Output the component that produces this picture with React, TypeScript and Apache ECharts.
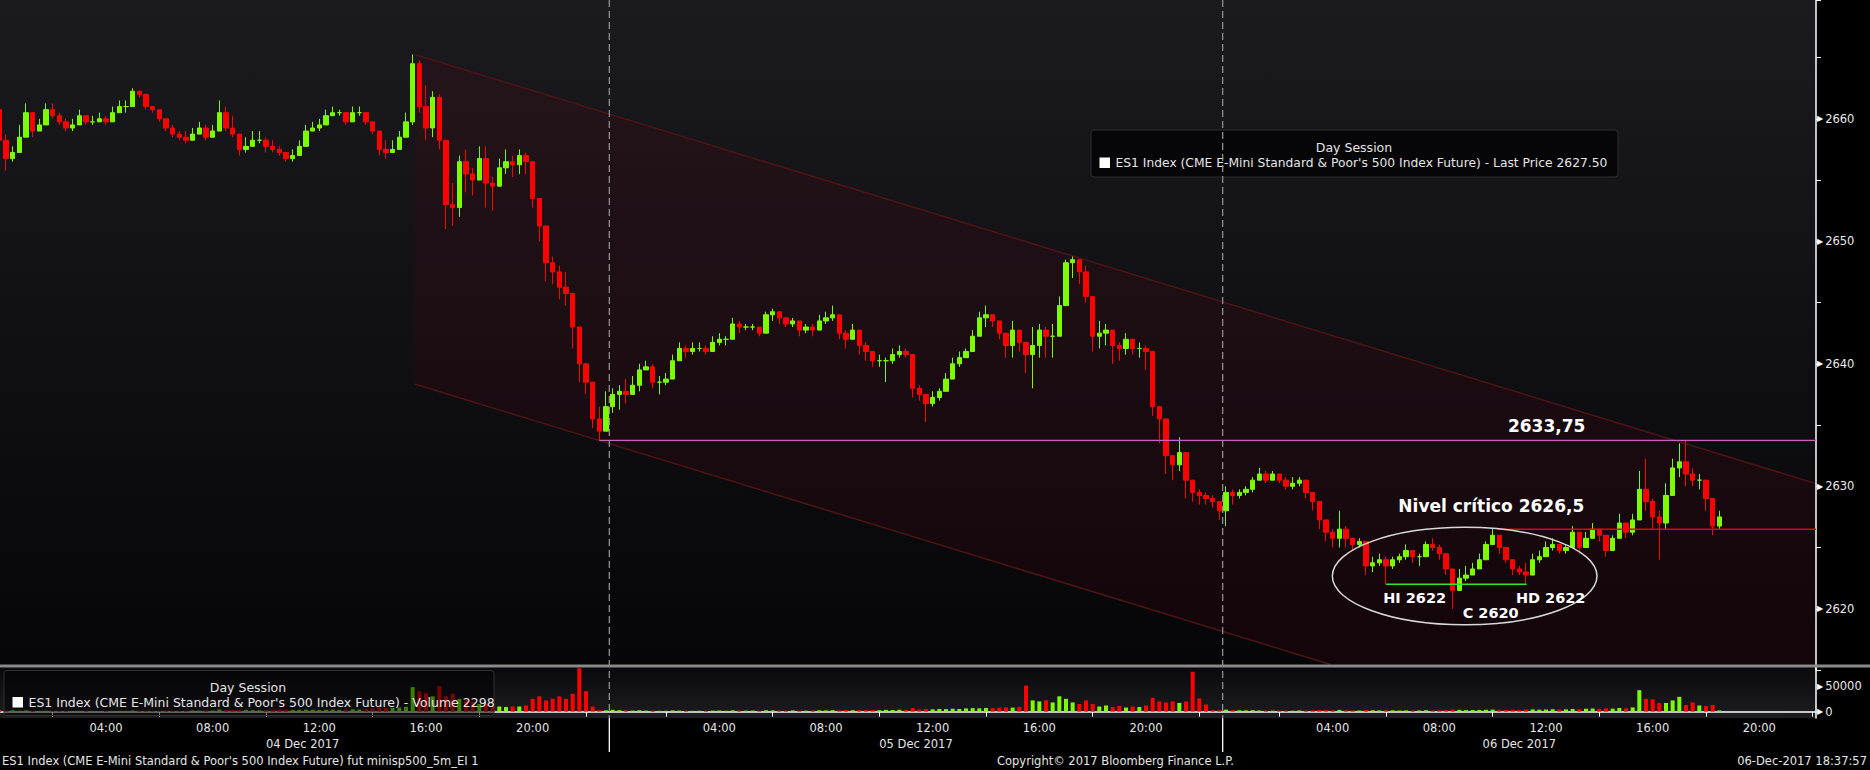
import React, { useEffect, useRef } from "react";
import * as echarts from "echarts";

// ---------- DATA (15-minute bars) ----------
const DAYS = ["04 Dec 2017", "05 Dec 2017", "06 Dec 2017"];
const SLOTS_PER_DAY = [92, 92, 89];
const FIRST_OPEN = 2660.75;

const day1Close = [
  2658.25, 2656.75, 2657.25, 2658.5, 2660.5, 2659.0, 2659.5, 2660.75, 2660.25, 2659.75,
  2659.25, 2659.5, 2660.25, 2659.75, 2659.75, 2660.0, 2659.75, 2660.5, 2661.0, 2661.0,
  2662.25, 2662.0, 2661.0, 2660.75, 2660.0, 2659.25, 2658.75, 2658.5, 2658.25, 2658.75,
  2659.25, 2658.5, 2659.0, 2660.5, 2659.25, 2658.75, 2657.5, 2657.75, 2658.25, 2658.25,
  2657.75, 2657.5, 2657.25, 2656.75, 2657.0, 2657.75, 2659.0, 2659.25, 2659.5, 2660.25,
  2660.5, 2660.5, 2659.75, 2660.5, 2660.5, 2659.75, 2659.0, 2657.5, 2657.25, 2657.5,
  2658.5, 2659.75, 2664.5, 2661.0, 2659.25, 2661.75, 2658.25, 2653.0, 2652.75, 2656.5,
  2655.5, 2655.0, 2656.75, 2654.75, 2654.5, 2656.0, 2656.5, 2656.25, 2657.0, 2656.5,
  2653.5, 2651.25, 2648.25, 2647.5, 2646.25, 2645.75, 2643.0, 2640.0, 2638.5, 2635.5,
  2634.5, 2636.5,
];
const day1High = [
  2660.75, 2658.75, 2657.75, 2659.5, 2661.25, 2660.5, 2660.0, 2661.25, 2661.25, 2660.5,
  2660.0, 2660.0, 2660.75, 2660.0, 2660.25, 2660.5, 2660.25, 2661.0, 2661.5, 2661.5,
  2662.5, 2662.25, 2662.0, 2661.0, 2660.75, 2659.75, 2659.5, 2659.0, 2659.0, 2659.25,
  2659.75, 2659.5, 2659.5, 2661.5, 2661.0, 2660.25, 2658.75, 2658.5, 2659.0, 2659.0,
  2658.5, 2658.25, 2657.75, 2657.25, 2657.5, 2658.25, 2659.5, 2659.75, 2660.0, 2660.75,
  2661.0, 2660.75, 2660.5, 2661.0, 2661.0, 2660.5, 2659.75, 2658.75, 2658.25, 2658.25,
  2659.0, 2660.5, 2665.25, 2664.75, 2662.75, 2662.25, 2662.0, 2658.25, 2654.75, 2657.0,
  2657.5, 2656.0, 2657.75, 2657.75, 2655.25, 2656.75, 2657.5, 2657.0, 2657.5, 2657.25,
  2655.5, 2653.5, 2650.75, 2648.75, 2648.0, 2647.5, 2645.0, 2642.5, 2639.5, 2638.25,
  2636.5, 2637.75,
];
const day1Low = [
  2658.25, 2655.75, 2656.5, 2657.5, 2658.75, 2658.5, 2659.0, 2659.5, 2660.0, 2659.5,
  2659.0, 2659.0, 2659.75, 2659.5, 2659.5, 2659.75, 2659.5, 2660.0, 2660.5, 2660.5,
  2661.5, 2661.75, 2660.75, 2660.5, 2659.75, 2659.0, 2658.5, 2658.25, 2658.0, 2658.25,
  2658.75, 2658.25, 2658.5, 2659.5, 2659.0, 2658.5, 2657.0, 2657.25, 2657.75, 2658.0,
  2657.25, 2657.25, 2657.0, 2656.5, 2656.5, 2657.25, 2658.0, 2659.0, 2659.0, 2659.75,
  2660.25, 2660.25, 2659.5, 2660.0, 2660.25, 2659.5, 2658.75, 2657.0, 2656.75, 2657.25,
  2657.75, 2659.0, 2659.5, 2660.5, 2658.25, 2658.5, 2657.5, 2651.0, 2651.25, 2652.0,
  2654.0, 2653.75, 2655.25, 2652.75, 2652.5, 2655.0, 2655.5, 2655.25, 2655.5, 2655.5,
  2652.75, 2650.0, 2646.75, 2646.5, 2645.25, 2644.75, 2641.25, 2638.5, 2637.5, 2634.75,
  2633.75, 2634.5,
];

const day2Close = [
  2637.5, 2637.75, 2637.5, 2638.25, 2639.5, 2639.75, 2638.5, 2638.5, 2638.75, 2640.25,
  2641.25, 2641.0, 2641.25, 2641.25, 2641.0, 2641.75, 2642.0, 2642.0, 2643.25, 2643.0,
  2643.0, 2643.0, 2642.5, 2644.0, 2644.25, 2643.75, 2643.25, 2643.5, 2642.75, 2643.0,
  2642.75, 2643.5, 2643.75, 2644.0, 2642.5, 2642.0, 2642.75, 2641.5, 2641.0, 2640.25,
  2640.25, 2640.25, 2640.75, 2641.0, 2640.75, 2638.0, 2637.5, 2636.75, 2637.25, 2637.75,
  2638.75, 2640.0, 2640.5, 2641.0, 2642.25, 2643.75, 2644.0, 2643.5, 2642.5, 2641.5,
  2642.75, 2641.75, 2640.75, 2641.5, 2642.75, 2642.25, 2642.25, 2644.75, 2648.25, 2648.5,
  2647.5, 2645.5, 2642.25, 2642.5, 2642.75, 2641.5, 2641.25, 2642.0, 2641.25, 2641.25,
  2641.0, 2636.5, 2635.5, 2632.5, 2631.75, 2632.75, 2630.5, 2629.5, 2629.25, 2629.0,
  2628.75, 2628.0,
];
const day2High = [
  2638.0, 2638.25, 2638.75, 2639.0, 2640.0, 2640.25, 2640.0, 2639.0, 2639.25, 2640.75,
  2641.75, 2641.5, 2641.75, 2641.75, 2641.5, 2642.25, 2642.5, 2642.25, 2643.75, 2643.5,
  2643.25, 2643.25, 2643.0, 2644.25, 2644.5, 2644.25, 2643.75, 2643.75, 2643.25, 2643.25,
  2643.25, 2644.0, 2644.25, 2644.75, 2643.5, 2642.75, 2643.25, 2642.5, 2641.75, 2641.0,
  2640.75, 2640.5, 2641.25, 2641.5, 2641.25, 2640.5, 2638.25, 2637.5, 2637.75, 2638.0,
  2639.25, 2640.5, 2641.0, 2641.25, 2642.75, 2644.25, 2644.75, 2644.0, 2643.25, 2642.5,
  2643.5, 2642.75, 2641.75, 2643.0, 2643.25, 2643.0, 2643.25, 2645.5, 2648.5, 2648.75,
  2648.5, 2648.0, 2645.5, 2643.5, 2643.25, 2642.0, 2641.75, 2642.5, 2641.75, 2641.75,
  2641.5, 2639.5, 2636.5, 2633.75, 2632.5, 2634.0, 2632.5, 2630.5, 2629.75, 2629.5,
  2629.25, 2628.75,
];
const day2Low = [
  2636.0, 2636.25, 2636.75, 2637.75, 2637.75, 2639.5, 2638.0, 2637.5, 2638.25, 2638.75,
  2640.5, 2640.5, 2640.75, 2641.0, 2640.75, 2641.0, 2641.5, 2641.5, 2642.5, 2642.5,
  2642.75, 2642.75, 2642.25, 2642.5, 2643.5, 2643.25, 2643.0, 2643.0, 2642.25, 2642.5,
  2642.25, 2643.0, 2643.25, 2643.5, 2642.0, 2641.25, 2642.0, 2640.75, 2640.25, 2639.75,
  2639.75, 2638.5, 2640.0, 2640.5, 2640.5, 2637.25, 2637.0, 2635.25, 2636.5, 2637.0,
  2637.75, 2639.25, 2639.75, 2640.5, 2641.0, 2642.5, 2643.0, 2643.0, 2642.0, 2640.5,
  2640.5, 2641.0, 2639.25, 2638.0, 2640.5, 2640.5, 2640.5, 2642.5, 2645.25, 2647.0,
  2646.5, 2645.0, 2641.0, 2641.25, 2641.5, 2640.0, 2640.25, 2640.75, 2640.75, 2640.5,
  2639.5, 2635.75, 2633.5, 2631.0, 2630.5, 2631.25, 2629.0, 2628.75, 2628.5, 2628.5,
  2628.25, 2627.25,
];

const day3Close = [
  2629.5, 2629.25, 2629.5, 2629.75, 2630.5, 2631.0, 2630.5, 2631.0, 2630.5, 2630.0,
  2630.25, 2630.5, 2629.5, 2628.75, 2627.25, 2626.25, 2625.75, 2626.5, 2625.75, 2625.25,
  2625.5, 2623.5, 2623.75, 2624.0, 2623.5, 2624.0, 2624.25, 2624.75, 2624.25, 2624.25,
  2625.25, 2625.0, 2624.5, 2623.25, 2621.5, 2622.5, 2622.75, 2623.25, 2624.0, 2625.25,
  2626.0, 2625.0, 2624.0, 2623.25, 2623.0, 2622.75, 2624.0, 2624.25, 2625.0, 2625.25,
  2624.75, 2625.0, 2626.25, 2625.0, 2625.75, 2626.5, 2626.0, 2624.75, 2625.75, 2627.0,
  2626.25, 2627.25, 2629.75, 2628.75, 2627.5, 2627.0, 2629.25, 2631.5, 2632.0, 2631.0,
  2630.5, 2630.5, 2629.0, 2626.75, 2627.5,
];
const day3High = [
  2630.0, 2629.75, 2629.75, 2630.0, 2630.75, 2631.5, 2631.25, 2631.25, 2631.0, 2630.75,
  2630.75, 2630.75, 2630.25, 2629.5, 2628.25, 2627.0, 2626.5, 2628.0, 2626.75, 2625.75,
  2625.75, 2625.0, 2624.25, 2624.5, 2624.25, 2624.25, 2624.5, 2625.25, 2624.75, 2624.5,
  2625.5, 2625.75, 2625.25, 2624.5, 2623.0, 2623.25, 2623.5, 2623.75, 2624.5, 2625.5,
  2626.5, 2625.75, 2624.5, 2623.75, 2623.5, 2623.75, 2624.5, 2624.75, 2625.5, 2625.75,
  2625.25, 2625.25, 2626.75, 2626.0, 2626.25, 2627.0, 2626.5, 2625.25, 2626.0, 2627.75,
  2627.0, 2627.75, 2631.25, 2632.25, 2629.0, 2628.0, 2630.25, 2632.25, 2633.5, 2633.75,
  2631.5, 2631.0, 2630.5, 2628.25, 2628.0,
];
const day3Low = [
  2626.75, 2628.5, 2629.0, 2629.25, 2629.5, 2630.5, 2630.25, 2630.75, 2630.25, 2629.75,
  2629.75, 2630.0, 2629.0, 2628.0, 2626.5, 2625.5, 2625.0, 2625.0, 2625.0, 2624.75,
  2625.0, 2622.75, 2623.0, 2623.5, 2622.0, 2623.25, 2623.75, 2624.0, 2623.75, 2623.5,
  2624.5, 2624.75, 2624.0, 2622.75, 2620.0, 2622.0, 2622.25, 2622.75, 2623.5, 2624.25,
  2625.5, 2624.5, 2623.75, 2622.75, 2622.75, 2622.0, 2623.25, 2623.75, 2624.25, 2624.75,
  2624.5, 2624.5, 2625.0, 2624.5, 2625.0, 2625.75, 2625.5, 2624.25, 2625.0, 2626.5,
  2625.75, 2626.0, 2628.5, 2628.0, 2626.5, 2624.0, 2626.5, 2629.5, 2630.75, 2630.0,
  2630.0, 2629.75, 2628.0, 2626.0, 2626.5,
];

const day1Volume = [
  3200, 2100, 2800, 1900, 2500, 1700, 1500, 1800, 1400, 1200,
  1300, 1100, 1500, 1000, 900, 1100, 1300, 1200, 1600, 1400,
  2200, 1800, 1500, 1300, 1700, 2000, 1800, 1600, 1900, 2400,
  2100, 2600, 2300, 4200, 3600, 3100, 3800, 3300, 2900, 2700,
  3000, 2800, 3200, 3500, 3100, 3400, 4000, 3700, 3300, 3600,
  3900, 3400, 3800, 4500, 4100, 4800, 6200, 7500, 6800, 7200,
  8000, 9500, 48000, 40000, 36000, 30000, 50000, 30000, 35000, 25000,
  22000, 20000, 15000, 15000, 12000, 10000, 9000, 10000, 10000, 12000,
  25000, 30000, 22000, 25000, 30000, 25000, 35000, 85000, 40000, 10000,
  3000, 2500,
];
const day2Volume = [
  3500, 2800, 2400, 2000, 2600, 1900, 1700, 1500, 1600, 2300,
  2000, 1800, 1500, 1700, 1400, 1900, 2100, 1600, 2500, 2200,
  1800, 2000, 1700, 2600, 2400, 2100, 1900, 2300, 2000, 1800,
  2200, 2500, 2300, 2800, 2600, 3000, 2700, 3300, 2900, 3100,
  2800, 3400, 3200, 3600, 3300, 7000, 4200, 4800, 4500, 5200,
  4900, 5600, 5100, 6200, 6800, 6400, 7200, 6900, 7600, 8200,
  7800, 9000, 51000, 22000, 20000, 22000, 18000, 30000, 25000, 18000,
  15000, 22000, 15000, 10000, 12000, 9000, 11000, 8000, 10000, 9000,
  12000, 27000, 20000, 18000, 20000, 17000, 20000, 78000, 26000, 14000,
  3000, 2600,
];
const day3Volume = [
  3800, 3000, 2600, 2400, 2900, 2200, 2000, 1800, 2100, 1900,
  1700, 2300, 2000, 2600, 3200, 2900, 2500, 3300, 2700, 2400,
  2200, 3100, 2600, 2300, 2800, 2500, 2100, 2400, 2000, 2200,
  2700, 2300, 2500, 3000, 4200, 3400, 2900, 3100, 3300, 3600,
  4000, 3500, 3200, 3700, 3400, 3900, 4300, 3800, 4100, 4600,
  4200, 4400, 5200, 4800, 5600, 6000, 5400, 6300, 5800, 7000,
  6500, 8200, 42000, 25000, 24000, 17000, 17000, 22000, 29000, 13000,
  18000, 12000, 11000, 13000, 2298,
];

const PRICE_TICKS = [2620, 2630, 2640, 2650, 2660];
const VOLUME_TICKS = [0, 50000];

// Annotation anchors in data units ([slot, price])
const CHANNEL_TOP = [[62, 2665.3], [161, 2648.8]];
const CHANNEL_WIDTH = 26.9;
const CHANNEL_START = 62.3;
const RESISTANCE = { level: 2633.75, from: 90 };
const CRITICAL = { level: 2626.5, from: 224.6 };
const NECKLINE = { level: 2622, from: 208, to: 229.1 };
const PATTERN_ELLIPSE = { s: 219.8, p: 2622.67, rs: 19.85, rp: 3.98 };
const NOTES = [
  { text: "2633,75", s: 232.1, p: 2634.94, size: 17 },
  { text: "Nivel crítico 2626,5", s: 223.8, p: 2628.41, size: 17 },
  { text: "HI 2622", s: 212.3, p: 2620.87, size: 14.5 },
  { text: "HD 2622", s: 232.7, p: 2620.87, size: 14.5 },
  { text: "C 2620", s: 223.7, p: 2619.65, size: 14.5 },
];

const FONT = "'DejaVu Sans', Verdana, sans-serif";
const UP = "#7cfc00";
const DOWN = "#ff0000";

const pad = (n: number) => (n < 10 ? "0" + n : "" + n);

export default function App() {
  const ref = useRef<HTMLDivElement>(null);

  useEffect(() => {
    const el = ref.current;
    if (!el) return;
    const chart = echarts.init(el, null, { renderer: "svg" });

    const cats: string[] = [];
    DAYS.forEach((d, di) => {
      for (let s = 0; s < SLOTS_PER_DAY[di]; s++) {
        cats.push(`${d} ${pad(Math.floor(s / 4))}:${pad((s % 4) * 15)}`);
      }
    });
    const N = cats.length;

    const closes = [...day1Close, ...day2Close, ...day3Close];
    const highs = [...day1High, ...day2High, ...day3High];
    const lows = [...day1Low, ...day2Low, ...day3Low];
    const vols = [...day1Volume, ...day2Volume, ...day3Volume];

    const candles = closes.map((c, i) => {
      const o = i === 0 ? FIRST_OPEN : closes[i - 1];
      return [o, c, Math.min(lows[i], o, c), Math.max(highs[i], o, c)];
    });
    const volData = vols.map((v, i) => ({
      value: v,
      itemStyle: { color: candles[i][1] >= candles[i][0] ? UP : DOWN },
    }));

    const hm = (v: string) => {
      const t = v.slice(-5);
      return [parseInt(t.slice(0, 2), 10), parseInt(t.slice(3), 10)];
    };

    const triRich = {
      t: { fontSize: 8, color: "#ffffff", fontFamily: FONT, padding: [0, 2, 0, 0] },
      v: { fontSize: 11.5, color: "#e8e8e8", fontFamily: FONT },
    };

    chart.setOption({
      animation: false,
      backgroundColor: "#000000",
      grid: [
        { left: -4, top: 0, width: 1820, height: 670, outerBoundsMode: "none" },
        { left: -4, top: 667, width: 1820, height: 51, outerBoundsMode: "none" },
      ],
      xAxis: [
        { type: "category", gridIndex: 0, data: cats, boundaryGap: true, show: false },
        {
          type: "category",
          gridIndex: 1,
          data: cats,
          boundaryGap: true,
          axisLine: { show: true, lineStyle: { color: "#ffffff", width: 1.5 } },
          axisTick: {
            show: true,
            alignWithLabel: true,
            length: 5,
            interval: (_i: number, v: string) => {
              const [h, m] = hm(v);
              return m === 0 && h % 4 === 2;
            },
            lineStyle: { color: "#ffffff" },
          },
          axisLabel: {
            interval: (_i: number, v: string) => {
              const [h, m] = hm(v);
              return m === 0 && h % 4 === 0 && h > 0;
            },
            formatter: (v: string) => v.slice(-5),
            color: "#e6e6e6",
            fontFamily: FONT,
            fontSize: 11.5,
            margin: 4,
          },
          splitLine: { show: false },
        },
      ],
      yAxis: [
        {
          type: "value",
          gridIndex: 0,
          position: "right",
          min: 2615,
          max: 2669.7,
          interval: 5,
          axisLine: { show: true, lineStyle: { color: "#ffffff", width: 1.5 } },
          axisTick: { show: true, length: 5, lineStyle: { color: "#ffffff" } },
          splitLine: { show: false },
          axisLabel: {
            margin: 1,
            formatter: (v: number) =>
              PRICE_TICKS.some((t) => Math.abs(t - v) < 1e-6) ? `{t|\u25B6}{v|${Math.round(v)}}` : "",
            rich: triRich,
          },
        },
        {
          type: "value",
          gridIndex: 1,
          position: "right",
          min: -12500,
          max: 87500,
          interval: 12500,
          axisLine: { show: true, lineStyle: { color: "#ffffff", width: 1.5 } },
          axisTick: { show: false },
          splitLine: { show: false },
          axisLabel: {
            margin: 1,
            formatter: (v: number) =>
              VOLUME_TICKS.some((t) => Math.abs(t - v) < 1e-6) ? `{t|\u25B6}{v|${Math.round(v)}}` : "",
            rich: triRich,
          },
        },
      ],
      series: [
        {
          type: "candlestick",
          xAxisIndex: 0,
          yAxisIndex: 0,
          data: candles,
          barWidth: 5,
          itemStyle: { color: UP, color0: DOWN, borderColor: UP, borderColor0: DOWN, borderWidth: 1 },
          z: 2,
        },
        {
          type: "bar",
          xAxisIndex: 1,
          yAxisIndex: 1,
          data: volData,
          barWidth: 4,
          z: 2,
        },
      ],
    });

    // ---- helpers through the library's scales ----
    const at = (s: number, p: number): number[] => {
      const a = chart.convertToPixel({ gridIndex: 0 }, [0, p]) as number[];
      const b = chart.convertToPixel({ gridIndex: 0 }, [1, p]) as number[];
      return [a[0] + s * (b[0] - a[0]), a[1]];
    };
    const slotW = at(1, 2640)[0] - at(0, 2640)[0];
    const ptPx = at(0, 2640)[1] - at(0, 2641)[1];
    const xRight = at(N - 0.5, 2640)[0];
    const SEP_Y = 664.5;
    const AXIS_Y = 718;

    const slope = (CHANNEL_TOP[1][1] - CHANNEL_TOP[0][1]) / (CHANNEL_TOP[1][0] - CHANNEL_TOP[0][0]);
    const topAt = (s: number) => CHANNEL_TOP[0][1] + (s - CHANNEL_TOP[0][0]) * slope;
    const sEnd = N - 0.5;
    const t0 = at(CHANNEL_START, topAt(CHANNEL_START));
    const t1 = at(sEnd, topAt(sEnd));
    const b0 = at(CHANNEL_START, topAt(CHANNEL_START) - CHANNEL_WIDTH);
    const b1 = at(sEnd, topAt(sEnd) - CHANNEL_WIDTH);
    const kk = (SEP_Y - b0[1]) / (b1[1] - b0[1]);
    const bi = kk < 1 ? [b0[0] + kk * (b1[0] - b0[0]), SEP_Y] : b1;
    const poly = kk < 1 ? [t0, t1, [t1[0], SEP_Y], bi, b0] : [t0, t1, b1, b0];

    const res = at(RESISTANCE.from, RESISTANCE.level);
    const crit = at(CRITICAL.from, CRITICAL.level);
    const neck0 = at(NECKLINE.from, NECKLINE.level);
    const neck1 = at(NECKLINE.to, NECKLINE.level);
    const ell = at(PATTERN_ELLIPSE.s, PATTERN_ELLIPSE.p);

    const dayStarts = [0, SLOTS_PER_DAY[0], SLOTS_PER_DAY[0] + SLOTS_PER_DAY[1]];
    const boundaries = dayStarts.slice(1).map((s) => at(s - 0.5, 2640)[0]);
    const dayCenters = dayStarts.map((s, i) => {
      const e = i < 2 ? dayStarts[i + 1] : N;
      return at((s + e) / 2 - 0.5, 2640)[0];
    });

    const graphics: any[] = [
      {
        type: "rect",
        z: -10,
        shape: { x: 0, y: 0, width: xRight, height: SEP_Y },
        style: {
          fill: new echarts.graphic.LinearGradient(0, 0, 0, 1, [
            { offset: 0, color: "#1b1b1f" },
            { offset: 1, color: "#060609" },
          ]),
        },
      },
      {
        type: "rect",
        z: -10,
        shape: { x: 0, y: SEP_Y + 3, width: xRight, height: AXIS_Y - SEP_Y - 3 },
        style: {
          fill: new echarts.graphic.LinearGradient(0, 0, 0, 1, [
            { offset: 0, color: "#0a0a0d" },
            { offset: 1, color: "#1d1d21" },
          ]),
        },
      },
      {
        type: "polygon",
        z: -5,
        shape: { points: poly },
        style: { fill: "rgba(90,0,12,0.16)" },
      },
      {
        type: "line",
        z: -4,
        shape: { x1: t0[0], y1: t0[1], x2: t1[0], y2: t1[1] },
        style: { stroke: "#4e1418", lineWidth: 1.5 },
      },
      {
        type: "line",
        z: -4,
        shape: { x1: b0[0], y1: b0[1], x2: bi[0], y2: bi[1] },
        style: { stroke: "#4e1418", lineWidth: 1.5 },
      },
      {
        type: "rect",
        z: 12,
        shape: { x: 0, y: SEP_Y, width: 1870, height: 3 },
        style: { fill: "#8a8a8a" },
      },
      {
        type: "line",
        z: 6,
        shape: { x1: res[0], y1: res[1], x2: xRight, y2: res[1] },
        style: { stroke: "#c864c0", lineWidth: 1.2 },
      },
      {
        type: "line",
        z: 6,
        shape: { x1: crit[0], y1: crit[1], x2: xRight, y2: crit[1] },
        style: { stroke: "#e80000", lineWidth: 1.5 },
      },
      {
        type: "line",
        z: 6,
        shape: { x1: neck0[0], y1: neck0[1], x2: neck1[0], y2: neck1[1] },
        style: { stroke: "#2ee82e", lineWidth: 1.5 },
      },
      {
        type: "ellipse",
        z: 6,
        shape: { cx: ell[0], cy: ell[1], rx: PATTERN_ELLIPSE.rs * slotW, ry: PATTERN_ELLIPSE.rp * ptPx },
        style: { fill: "none", stroke: "#d8d8d8", lineWidth: 1.5 },
      },
      ...NOTES.map((n) => {
        const p = at(n.s, n.p);
        return {
          type: "text",
          z: 7,
          x: p[0],
          y: p[1],
          style: {
            text: n.text,
            fill: "#ffffff",
            font: `bold ${n.size}px ${FONT}`,
            align: "center",
            verticalAlign: "middle",
          },
        };
      }),
      // top legend box
      {
        type: "rect",
        z: 8,
        shape: { x: 1091, y: 130, width: 527, height: 47, r: 3 },
        style: { fill: "rgba(4,4,6,0.88)", stroke: "#2e2e30", lineWidth: 1 },
      },
      {
        type: "text",
        z: 9,
        x: 1354,
        y: 147,
        style: { text: "Day Session", fill: "#e4e4e4", font: `12.5px ${FONT}`, align: "center", verticalAlign: "middle" },
      },
      {
        type: "rect",
        z: 9,
        shape: { x: 1099.5, y: 157.5, width: 10.5, height: 10.5 },
        style: { fill: "#ffffff" },
      },
      {
        type: "text",
        z: 9,
        x: 1115.5,
        y: 163,
        style: {
          text: "ES1 Index (CME E-Mini Standard & Poor's 500 Index Future) - Last Price 2627.50",
          fill: "#e4e4e4",
          font: `12.3px ${FONT}`,
          align: "left",
          verticalAlign: "middle",
        },
      },
      // volume legend box
      {
        type: "rect",
        z: 8,
        shape: { x: 4, y: 670.5, width: 490, height: 45, r: 3 },
        style: { fill: "rgba(0,0,0,0.5)", stroke: "#303032", lineWidth: 1 },
      },
      {
        type: "text",
        z: 9,
        x: 248,
        y: 687,
        style: { text: "Day Session", fill: "#e4e4e4", font: `12.5px ${FONT}`, align: "center", verticalAlign: "middle" },
      },
      {
        type: "rect",
        z: 9,
        shape: { x: 12.5, y: 697, width: 10.5, height: 10.5 },
        style: { fill: "#ffffff" },
      },
      {
        type: "text",
        z: 9,
        x: 28.5,
        y: 702.5,
        style: {
          text: "ES1 Index (CME E-Mini Standard & Poor's 500 Index Future) - Volume 2298",
          fill: "#e4e4e4",
          font: `12.5px ${FONT}`,
          align: "left",
          verticalAlign: "middle",
        },
      },
      // day boundaries
      ...boundaries.map((x) => ({
        type: "line",
        z: 10,
        shape: { x1: x, y1: 0, x2: x, y2: AXIS_Y },
        style: { stroke: "#8e8e8e", lineWidth: 1.3, lineDash: [7, 4] },
      })),
      ...boundaries.map((x) => ({
        type: "line",
        z: 10,
        shape: { x1: x, y1: AXIS_Y, x2: x, y2: 752 },
        style: { stroke: "#ffffff", lineWidth: 1.3 },
      })),
      // date labels
      ...DAYS.map((d, i) => ({
        type: "text",
        z: 10,
        x: dayCenters[i],
        y: 744,
        style: { text: d, fill: "#e6e6e6", font: `11.5px ${FONT}`, align: "center", verticalAlign: "middle" },
      })),
      // footer
      {
        type: "text",
        z: 10,
        x: 2,
        y: 761,
        style: {
          text: "ES1 Index (CME E-Mini Standard & Poor's 500 Index Future) fut minisp500_5m_EI 1",
          fill: "#e6e6e6",
          font: `11.5px ${FONT}`,
          align: "left",
          verticalAlign: "middle",
        },
      },
      {
        type: "text",
        z: 10,
        x: 1115.5,
        y: 761,
        style: {
          text: "Copyright\u00A9 2017 Bloomberg Finance L.P.",
          fill: "#e6e6e6",
          font: `11.5px ${FONT}`,
          align: "center",
          verticalAlign: "middle",
        },
      },
      {
        type: "text",
        z: 10,
        x: 1867,
        y: 761,
        style: {
          text: "06-Dec-2017 18:37:57",
          fill: "#e6e6e6",
          font: `11.5px ${FONT}`,
          align: "right",
          verticalAlign: "middle",
        },
      },
    ];

    chart.setOption({ graphic: graphics });

    return () => {
      chart.dispose();
    };
  }, []);

  return (
    <div
      ref={ref}
      style={{ position: "fixed", left: 0, top: 0, width: 1870, height: 770, background: "#000" }}
    />
  );
}
